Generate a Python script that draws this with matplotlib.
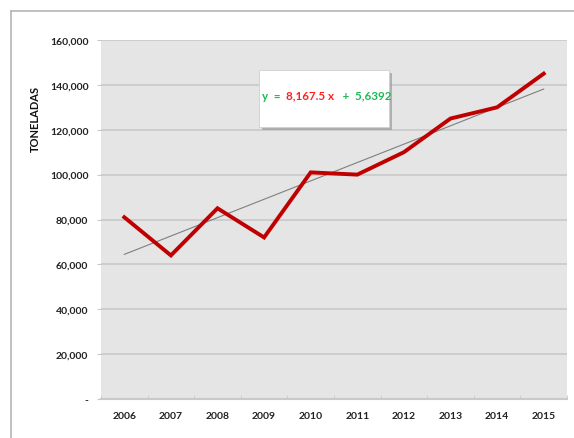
import numpy as np
import matplotlib.pyplot as plt
from matplotlib.patches import Rectangle
from matplotlib.lines import Line2D
from matplotlib.ticker import FuncFormatter

years = ["2006", "2007", "2008", "2009", "2010", "2011", "2012", "2013", "2014", "2015"]
toneladas = [81000, 64000, 85000, 72000, 101000, 100000, 110000, 125000, 130000, 145000]
y_ticks = [0, 20000, 40000, 60000, 80000, 100000, 120000, 140000, 160000]
y_label = "TONELADAS"
eq_parts = [("y  =  ", "#1db954"), ("8,167.5 x", "#ff2020"), ("   +  5,6392", "#1db954")]

plt.rcParams['font.family'] = ['Lato', 'DejaVu Sans']

W, H = 574, 439
fig = plt.figure(figsize=(W / 100, H / 100), dpi=100)
fig.patch.set_facecolor("white")

# outer chart frame (left and top edges)
fig.add_artist(Line2D([11 / W, 11 / W], [0, 1 - 12 / H], transform=fig.transFigure,
                      color="#b5b5b5", lw=1.2))
fig.add_artist(Line2D([11 / W, 1], [1 - 12 / H, 1 - 12 / H], transform=fig.transFigure,
                      color="#b5b5b5", lw=1.2))

left, right, top, bottom = 101, 567, 41, 400
ax = fig.add_axes([left / W, 1 - bottom / H, (right - left) / W, (bottom - top) / H])
ax.set_facecolor("#e5e5e5")

x = np.arange(len(years))
ax.set_xlim(-0.5, len(years) - 0.5)
ax.set_ylim(0, 160000)

ax.set_yticks(y_ticks)
ax.yaxis.set_major_formatter(FuncFormatter(lambda v, p: "-" if v == 0 else f"{int(v):,}"))
ax.grid(axis="y", color="#c9c9c9", lw=1.2)
ax.set_axisbelow(True)

ax.set_xticks(x)
ax.set_xticklabels(years)
ax.set_xticks(np.arange(-0.5, len(years), 1), minor=True)
ax.tick_params(axis="x", which="major", length=0, pad=9)
ax.tick_params(axis="x", which="minor", length=3, color="#c9c9c9", direction="in")
ax.tick_params(axis="y", length=3, color="#c9c9c9", pad=6)
for lab in ax.get_xticklabels() + ax.get_yticklabels():
    lab.set_fontweight("bold")
    lab.set_fontsize(7.5)
    lab.set_color("#222222")

for s in ["top", "right", "left"]:
    ax.spines[s].set_visible(False)
ax.spines["bottom"].set_color("#c9c9c9")
ax.spines["bottom"].set_linewidth(1.5)

# linear trend
coef = np.polyfit(x, toneladas, 1)
ax.plot(x, np.polyval(coef, x), color="#7f7f7f", lw=0.8, zorder=3)
# main series
ax.plot(x, toneladas, color="#c00000", lw=2.8, solid_joinstyle="miter", zorder=4)

fig.text(35 / W, 1 - 119 / H, y_label, rotation=90, ha="center", va="center",
         fontsize=8, fontweight="bold", color="#111111")

# equation box with shadow
bx0, by0, bx1, by1 = 259, 71, 389, 128
fig.add_artist(Rectangle(((bx0 + 3) / W, 1 - (by1 + 3) / H), (bx1 - bx0) / W, (by1 - by0) / H,
                         transform=fig.transFigure, facecolor="#9a9a9a", edgecolor="none",
                         alpha=0.7, zorder=5))
fig.add_artist(Rectangle((bx0 / W, 1 - by1 / H), (bx1 - bx0) / W, (by1 - by0) / H,
                         transform=fig.transFigure, facecolor="white", edgecolor="#d0d0d0",
                         lw=0.6, zorder=6))

renderer = fig.canvas.get_renderer()
tx = 262 / W
for txt, col in eq_parts:
    t = fig.text(tx, 1 - 96 / H, txt, color=col, fontsize=8.4, fontweight="bold",
                 ha="left", va="center", zorder=7)
    bb = t.get_window_extent(renderer=renderer)
    tx += bb.width / W

fig.savefig("out.png", dpi=100)
